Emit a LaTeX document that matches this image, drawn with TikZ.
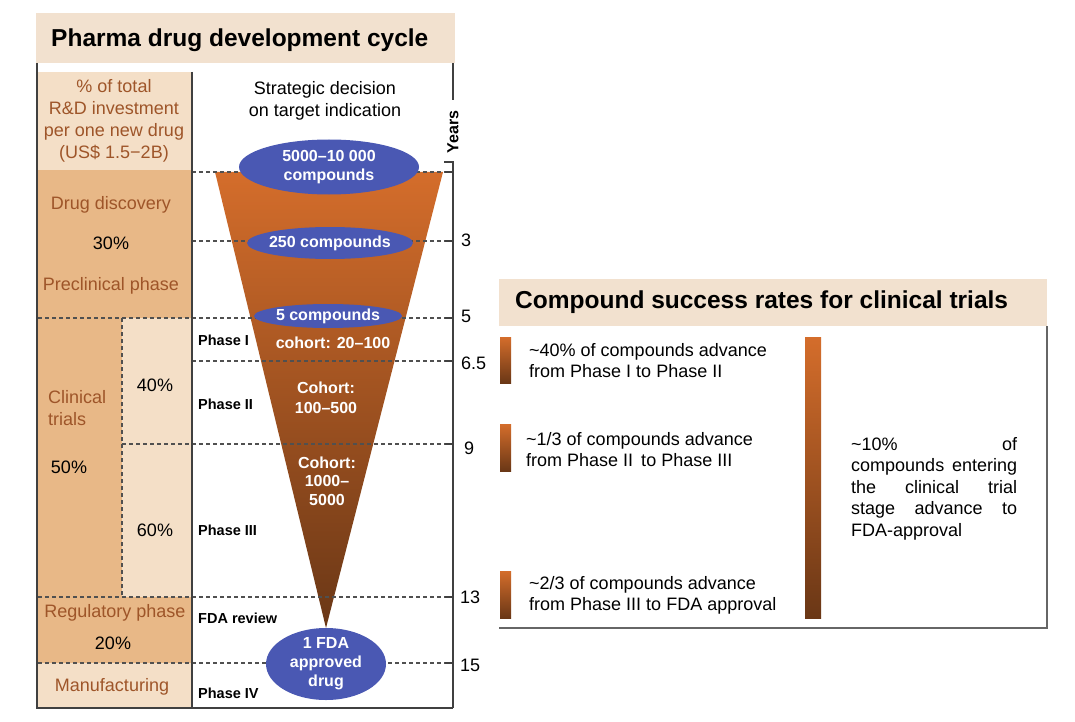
\documentclass[tikz,border=0pt]{standalone}
\usepackage{fontspec}
\setmainfont{Liberation Sans}
\usetikzlibrary{shapes.geometric}
\definecolor{beige}{HTML}{F2E1CF}
\definecolor{lightbox}{HTML}{F4DFC7}
\definecolor{darkbox}{HTML}{E8B887}
\definecolor{browntext}{HTML}{9E5529}
\definecolor{ellblue}{HTML}{4A58B3}
\definecolor{ftop}{HTML}{D46D2B}
\definecolor{fbot}{HTML}{6A3716}
\definecolor{framec}{HTML}{404040}
\definecolor{dashc}{HTML}{505050}
\begin{document}
\begin{tikzpicture}[x=1pt,y=-1pt,
  body/.style={font=\fontsize{18}{22}\selectfont, inner sep=0, align=center},
  brownlbl/.style={body, text=browntext},
  pct/.style={body, text=black},
  phase/.style={font=\bfseries\fontsize{14.5}{17}\selectfont, anchor=west, inner sep=0},
  compell/.style={ellipse, fill=ellblue, draw=none, inner sep=0},
  comptext/.style={text=white, font=\bfseries\fontsize{16}{18.5}\selectfont, inner sep=0, align=center},
  dashl/.style={dashc, line width=1.3pt, dash pattern=on 4pt off 3pt},
  framel/.style={framec, line width=1.3pt},
  bandfill/.style={fill=beige},
  gradbar/.style={top color=ftop, bottom color=fbot, draw=none},
  yearlbl/.style={font=\fontsize{18}{20}\selectfont, anchor=west, inner sep=0},
  titlet/.style={font=\bfseries\fontsize{24.5}{28}\selectfont, anchor=west, inner sep=0},
  ratetext/.style={body, anchor=west, align=left}]
\useasboundingbox (0,0) rectangle (1075,722);
\fill[white] (0,0) rectangle (1075,722);

% ---------- left panel ----------
\fill[bandfill] (36,13) rectangle (455,63);
\node[titlet] (t1) at (51,40) {Pharma drug development cycle};

% left column boxes
\fill[lightbox] (38,72) rectangle (192,170);
\fill[darkbox] (38,170) rectangle (192,318);
\fill[darkbox] (38,318) rectangle (122,597);
\fill[lightbox] (122,318) rectangle (192,597);
\fill[darkbox] (38,597) rectangle (192,663);
\fill[lightbox] (38,663) rectangle (192,708);

% funnel
\shade[top color=ftop, bottom color=fbot] (215,172) -- (443,172) -- (326,628) -- cycle;

% dashed level lines
\draw[dashl] (192,172) -- (453,172);
\draw[dashl] (192,241) -- (453,241);
\draw[dashl] (38,318) -- (453,318);
\draw[dashl] (192,361) -- (453,361);
\draw[dashl] (122,444) -- (453,444);
\draw[dashl] (38,597) -- (453,597);
\draw[dashl] (38,663) -- (453,663);
\draw[dashl] (122,318) -- (122,597);

% frame and axis
\draw[framel] (37,63) -- (37,708) -- (453,708);
\draw[framel] (453,63) -- (453,100);
\draw[framel] (192,72) -- (192,708);
\draw[framel] (444,162) -- (453,162) -- (453,708);
\foreach \yy in {172,241,318,361,444,597,663} {\draw[framel] (445,\yy) -- (453,\yy);}

\node[font=\bfseries\fontsize{16}{18}\selectfont, rotate=90, inner sep=0] (years) at (453,132) {Years};
\node[yearlbl] (y3) at (461,240) {3};
\node[yearlbl] (y5) at (461,316) {5};
\node[yearlbl] (y65) at (461,363) {6.5};
\node[yearlbl] (y9) at (464,448) {9};
\node[yearlbl] (y13) at (460,597) {13};
\node[yearlbl] (y15) at (460,665) {15};

% left column texts
\node[brownlbl] (hdr) at (114,121) {\% of total\\R\&D investment\\per one new drug\\(US\$ 1.5−2B)};
\node[brownlbl] (dd) at (111,205) {Drug discovery};
\node[pct] (p30) at (111,243) {30\%};
\node[brownlbl] (pre) at (111,286) {Preclinical phase};
\node[brownlbl, anchor=west, align=left] (ct) at (48,408) {Clinical\\trials};
\node[pct] (p50) at (69,467) {50\%};
\node[pct] (p40) at (155,385) {40\%};
\node[pct] (p60) at (155,530) {60\%};
\node[brownlbl] (reg) at (115,613) {Regulatory phase};
\node[pct] (p20) at (113,643) {20\%};
\node[brownlbl] (man) at (112,687) {Manufacturing};

% phase labels
\node[phase] (ph1) at (198,340) {Phase I};
\node[phase] (ph2) at (198,404) {Phase II};
\node[phase] (ph3) at (198,530) {Phase III};
\node[phase] (fdar) at (198,618) {FDA review};
\node[phase] (ph4) at (198,693) {Phase IV};

\node[body] (strat) at (325,101) {Strategic decision\\on target indication};

% ellipses
\node[compell, minimum width=180pt, minimum height=55pt] (e1) at (329,167) {};
\node[comptext] at (e1) {5000–10 000\\compounds};
\node[compell, minimum width=166pt, minimum height=32pt] (e2) at (330,243) {};
\node[comptext] at (e2) {250 compounds};
\node[compell, minimum width=148pt, minimum height=24pt] (e3) at (328,316) {};
\node[comptext] at (e3) {5 compounds};
\node[compell, minimum width=120pt, minimum height=72pt] (e4) at (326,664) {};
\node[comptext, font=\bfseries\fontsize{16}{19}\selectfont] at (e4) {1 FDA\\approved\\drug};

% funnel texts
\node[comptext] (c1) at (333,343) {cohort: 20–100};
\node[comptext, font=\bfseries\fontsize{16}{19.5}\selectfont] (c2) at (326,398) {Cohort:\\100–500};
\node[comptext, font=\bfseries\fontsize{16}{18.5}\selectfont] (c3) at (327,481) {Cohort:\\1000–\\5000};

% ---------- right panel ----------
\fill[bandfill] (499,279) rectangle (1047,326);
\node[titlet] (t2) at (515,302) {Compound success rates for clinical trials};
\draw[framec!80, line width=1.3pt] (1047,326) -- (1047,628) -- (499,628);

\shade[gradbar] (500,337) rectangle (511,383);
\shade[gradbar] (500,424) rectangle (511,471);
\shade[gradbar] (500,571) rectangle (511,618);
\shade[gradbar] (805,337) rectangle (821,618);

\node[ratetext, font=\fontsize{18}{21}\selectfont] (r1) at (529,361) {\textasciitilde40\% of compounds advance\\from Phase I to Phase II};
\node[ratetext, font=\fontsize{18}{21}\selectfont] (r2) at (526,449.5) {\textasciitilde1/3 of compounds advance\\from Phase II\, to Phase III};
\node[ratetext, font=\fontsize{18}{21}\selectfont] (r3) at (529,595) {\textasciitilde2/3 of compounds advance\\from Phase III to FDA approval};

\node[ratetext, font=\fontsize{18}{21.5}\selectfont, text width=166pt] (r4) at (851,488.5)
 {\makebox[166pt][l]{\textasciitilde10\%\hfill of}\\
  \makebox[166pt][l]{compounds\hfill entering}\\
  \makebox[166pt][l]{the\hfill clinical\hfill trial}\\
  \makebox[166pt][l]{stage\hfill advance\hfill to}\\
  FDA-approval};
\end{tikzpicture}
\end{document}
